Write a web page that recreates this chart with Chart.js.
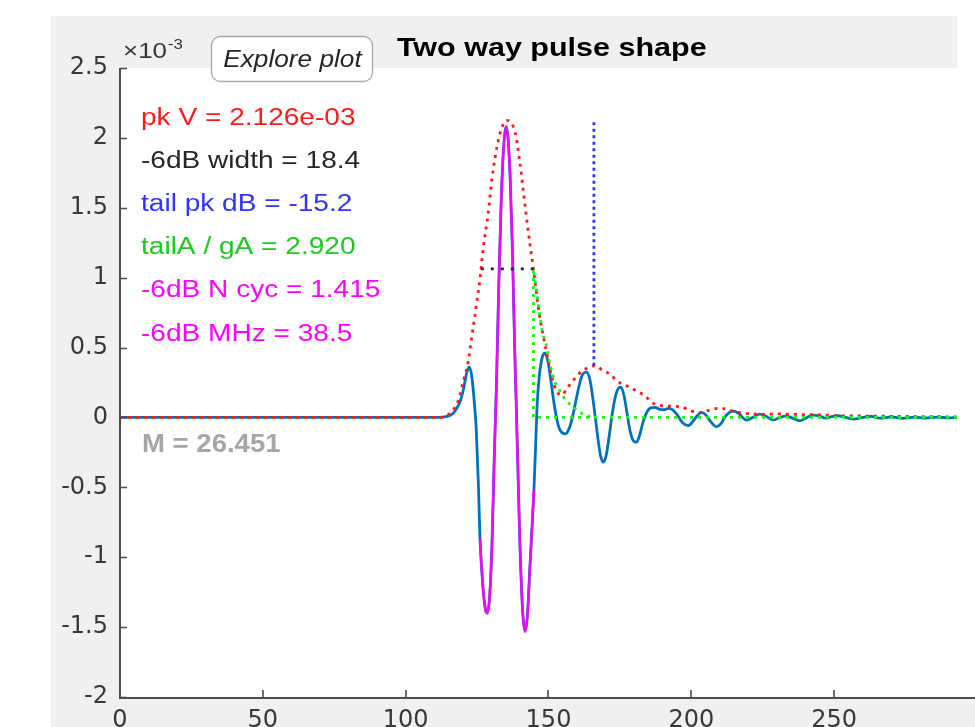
<!DOCTYPE html>
<html><head><meta charset="utf-8">
<script src="https://cdn.jsdelivr.net/npm/chart.js@4.4.1/dist/chart.umd.min.js"></script>
<style>html,body{margin:0;padding:0;overflow:hidden;background:#fff}#wrap{width:975px;height:745px}</style>
</head><body><div id="wrap"><canvas id="c" width="975" height="745"></canvas></div>
<script>
// ---- data (amplitudes in units of 1e-3) ----
const sigX = [0,20,40,60,80,100,110,113,115,116.7,118,119,120,120.8,121.5,122.3,123.1,123.9,124.7,125.5,126.0,126.6,127.3,127.9,128.6,129.4,130.2,131.0,131.8,132.6,133.4,134.2,135.2,135.9,136.6,137.4,138.1,138.8,139.4,140.0,141.0,141.8,142.6,143.5,144.2,144.9,145.5,146.0,146.8,147.8,148.8,149.8,150.8,151.8,152.8,153.8,155.8,157.0,158.0,159.0,160.0,161.0,162.0,163.3,164.5,165.5,166.5,167.5,168.3,169.2,170.2,171.2,172.2,173.2,174.2,175.4,176.5,177.5,178.5,179.5,180.8,182,183,184.5,186,187.3,189,190.5,192,193.5,195,197,198.9,200.5,202,203.6,205,206.8,208.8,210.5,212,214.7,216.5,219.3,222,224,226,228.7,231,233,235.5,238,240.5,242.7,245,247,249,251.4,254,257,260,263,266,270,274,278,282,286,290,293];
const sigY = [0,0,0,0,0,0,0,0.002,0.01,0.03,0.07,0.11,0.18,0.26,0.33,0.36,0.30,0.14,-0.08,-0.50,-0.86,-1.08,-1.27,-1.37,-1.40,-1.28,-0.92,-0.30,0.25,0.95,1.52,1.90,2.08,1.98,1.70,1.18,0.55,0.02,-0.45,-0.91,-1.40,-1.53,-1.42,-1.07,-0.80,-0.52,-0.20,0.08,0.30,0.43,0.46,0.40,0.27,0.12,0.00,-0.08,-0.117,-0.09,-0.03,0.06,0.16,0.25,0.31,0.324,0.27,0.14,-0.02,-0.18,-0.28,-0.32,-0.27,-0.14,0.01,0.13,0.20,0.217,0.15,0.03,-0.09,-0.16,-0.177,-0.12,-0.04,0.04,0.07,0.072,0.058,0.055,0.065,0.055,0.02,-0.04,-0.058,-0.03,0.01,0.036,0.02,-0.03,-0.066,-0.04,0.01,0.045,0.03,-0.019,0.005,0.024,0.01,-0.019,0.0,0.01,-0.005,-0.024,0.0,0.017,0.01,-0.005,0.005,0.012,0.0,-0.012,0.0,0.008,-0.005,0.004,-0.006,0.003,-0.004,0.002,-0.003,0.0];
const mainStart = 126.0, mainEnd = 144.9;           // -6dB segment drawn in magenta
const envX = [0,100,112,115.5,118.4,120.2,121.9,123.1,124.8,126.0,127.2,128.9,130.1,131.3,133.0,135.3,138.3,140.0,141.2,142.3,143.5,144.7,146.4,148.2,149.9,151.3,152.8,154.5,156.3,158.0,159.8,161.5,163.3,166.2,168.8,171.5,173.5,175.6,178,180.8,184,186,188,193,196.6,199.5,203,206,208.5,211,214.7,218,222,226,230,235,240,245,250,260,270,280,293];
const envY = [0,0,0,0.03,0.12,0.26,0.40,0.57,0.81,0.99,1.22,1.46,1.69,1.86,2.03,2.126,2.04,1.82,1.62,1.43,1.24,1.07,0.79,0.58,0.41,0.28,0.19,0.16,0.20,0.25,0.29,0.33,0.35,0.37,0.34,0.31,0.27,0.24,0.22,0.19,0.15,0.11,0.09,0.08,0.075,0.05,0.035,0.05,0.063,0.063,0.045,0.03,0.025,0.022,0.025,0.022,0.02,0.018,0.013,0.01,0.008,0.006,0.004];
const halfX = [126.3,144.7];
const halfY = [1.063,1.063];
const tailX = [293,144.7,144.7,145.8,146.8,148.0,149.2,150.5,152.3,155.1,158.1,161.6,165];
const tailY = [0,0,1.063,0.91,0.75,0.60,0.52,0.38,0.25,0.15,0.08,0.03,0];
const tailPkX = [165.9,165.9];
const tailPkY = [0.37,2.126];
const xTickValues = [0,50,100,150,200,250];
const xTickLabels = ['0','50','100','150','200','250'];
const yTickValues = [-2,-1.5,-1,-0.5,0,0.5,1,1.5,2,2.5];
const yTickLabels = ['-2','-1.5','-1','-0.5','0','0.5','1','1.5','2','2.5'];
const statTexts = ['pk V = 2.126e-03','-6dB width = 18.4','tail pk dB = -15.2','tailA / gA = 2.920','-6dB N cyc = 1.415','-6dB MHz = 38.5'];
const statColors = ['#FF1A1A','#262626','#3333FF','#1FC81F','#FF00FF','#FF00FF'];
const titleText = 'Two way pulse shape';
const mText = 'M = 26.451';

const pts = (xs, ys) => xs.map((x, i) => ({x, y: ys[i]}));
const sigPts = pts(sigX, sigY);
const magPts = sigPts.filter(p => p.x >= mainStart && p.x <= mainEnd);

function sText(ctx, txt, x, y, font, color, sx, align) {
  ctx.save();
  ctx.font = font; ctx.fillStyle = color; ctx.textBaseline = 'alphabetic';
  ctx.textAlign = align || 'left';
  ctx.translate(x, y); ctx.scale(sx, 1); ctx.fillText(txt, 0, 0);
  ctx.restore();
}

const deco = {
  id: 'deco',
  beforeDraw(chart) {
    const {ctx, chartArea: ca, width: W, height: H} = chart;
    ctx.save();
    ctx.fillStyle = '#ffffff'; ctx.fillRect(0, 0, W, H);
    ctx.fillStyle = '#F0F0F0';
    ctx.fillRect(51, 16, 957 - 51, H - 16);
    ctx.fillRect(957, ca.bottom, W - 957, H - ca.bottom);
    ctx.fillStyle = '#ffffff';
    ctx.fillRect(ca.left, ca.top, ca.right - ca.left, ca.bottom - ca.top);
    ctx.restore();
  },
  afterDraw(chart) {
    const {ctx, chartArea: ca, scales: {x, y}} = chart;
    ctx.save();
    // axes
    ctx.strokeStyle = '#4D4D4D'; ctx.lineWidth = 2;
    ctx.beginPath();
    ctx.moveTo(ca.left, ca.top); ctx.lineTo(ca.left, ca.bottom + 1); ctx.lineTo(ca.right + 20, ca.bottom + 1);
    ctx.stroke();
    ctx.lineWidth = 1.6;
    ctx.beginPath();
    xTickValues.forEach(v => { const px = Math.round(x.getPixelForValue(v)); ctx.moveTo(px, ca.bottom); ctx.lineTo(px, ca.bottom - 7); });
    yTickValues.forEach(v => { const py = Math.round(y.getPixelForValue(v)) + 0.5; ctx.moveTo(ca.left, py); ctx.lineTo(ca.left + 7, py); });
    ctx.stroke();
    // exponent label
    sText(ctx, '\u00D710', 123, 58, '22px "Liberation Sans"', '#383838', 1.18);
    sText(ctx, '-3', 168, 49, '14px "Liberation Sans"', '#383838', 1.2);
    // Explore plot button
    const bx = 211.5, by = 36.5, bw = 161, bh = 45, r = 9;
    ctx.beginPath();
    ctx.moveTo(bx + r, by); ctx.lineTo(bx + bw - r, by); ctx.arcTo(bx + bw, by, bx + bw, by + r, r);
    ctx.lineTo(bx + bw, by + bh - r); ctx.arcTo(bx + bw, by + bh, bx + bw - r, by + bh, r);
    ctx.lineTo(bx + r, by + bh); ctx.arcTo(bx, by + bh, bx, by + bh - r, r);
    ctx.lineTo(bx, by + r); ctx.arcTo(bx, by, bx + r, by, r); ctx.closePath();
    ctx.fillStyle = '#ffffff'; ctx.fill();
    ctx.strokeStyle = '#A8A8A8'; ctx.lineWidth = 1.3; ctx.stroke();
    sText(ctx, 'Explore plot', 292.5, 66.5, 'italic 23px "Liberation Sans"', '#262626', 1.14, 'center');
    // title
    sText(ctx, titleText, 397, 56, 'bold 25px "Liberation Sans"', '#000000', 1.22);
    // stats
    const bases = [125, 168, 211, 254, 297, 341];
    statTexts.forEach((t, i) => sText(ctx, t, 141, bases[i], '23px "Liberation Sans"', statColors[i], 1.22));
    sText(ctx, mText, 142, 452, 'bold 25.5px "Liberation Sans"', '#A6A6A6', 1.08);
    ctx.restore();
  }
};

const ds = (data, color, width, dash, smooth) => ({
  data, borderColor: color, borderWidth: width, borderDash: dash || [],
  pointRadius: 0, fill: false, tension: 0,
  cubicInterpolationMode: smooth ? 'monotone' : 'default'
});

new Chart(document.getElementById('c'), {
  type: 'line',
  data: {
    datasets: [
      ds(pts(tailPkX, tailPkY), '#3333FF', 2.8, [3, 3.5]),
      ds(pts(tailX, tailY), '#22EE22', 2.8, [3, 5]),
      ds(pts(halfX, halfY), '#262626', 2.8, [3, 7]),
      ds(pts(envX, envY), '#FF1A1A', 2.8, [3, 5], true),
      ds(magPts, '#FF00FF', 2.4, [], true),
      ds(sigPts, '#0072BD', 2.8, [], true)
    ]
  },
  options: {
    responsive: false, animation: false, devicePixelRatio: 1,
    layout: {padding: {top: 68, right: 18, left: 0, bottom: 0}},
    plugins: {legend: {display: false}, tooltip: {enabled: false}, title: {display: false}},
    scales: {
      x: {
        type: 'linear', min: 0, max: 293,
        afterBuildTicks: s => { s.ticks = xTickValues.map(v => ({value: v})); },
        afterFit: s => { s.height = 48; },
        grid: {display: false, drawTicks: false},
        border: {display: false},
        ticks: {padding: 9, autoSkip: false, maxRotation: 0, color: '#383838',
          font: {family: 'DejaVu Sans', size: 24},
          callback: (v, i) => xTickLabels[i]}
      },
      y: {
        type: 'linear', min: -2, max: 2.5,
        afterBuildTicks: s => { s.ticks = yTickValues.map(v => ({value: v})); },
        afterFit: s => { s.width = 120; },
        grid: {display: false, drawTicks: false},
        border: {display: false},
        ticks: {padding: 12, autoSkip: false, color: '#383838',
          font: {family: 'DejaVu Sans', size: 24},
          callback: (v, i) => yTickLabels[i]}
      }
    }
  },
  plugins: [deco]
});
</script>
</body></html>
